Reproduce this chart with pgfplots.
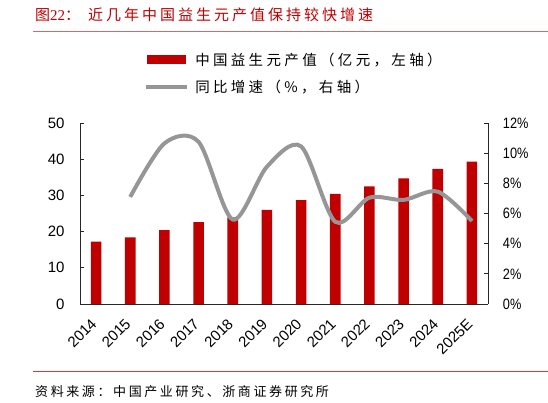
\documentclass[border=0pt]{standalone}
\usepackage{fontspec}
\setmainfont{Liberation Sans}
\newfontfamily\cjkT[LetterSpace=20]{Noto Sans CJK SC}
\newfontfamily\cjkL[LetterSpace=23]{Noto Sans CJK SC}
\newfontfamily\serifL{Liberation Serif}
\usepackage{pgfplots}
\usepackage{pgfplotstable}
\pgfplotsset{compat=1.18}
\definecolor{barred}{HTML}{C00000}
\definecolor{linegray}{HTML}{969696}
\definecolor{titlered}{HTML}{C00000}
\definecolor{ruleA}{HTML}{D46A6A}
\definecolor{ruleB}{HTML}{D83A3A}

\pgfplotstableread{
x val
0 17.2
1 18.4
2 20.4
3 22.6
4 23.9
5 26.0
6 28.7
7 30.4
8 32.5
9 34.7
10 37.3
11 39.3
}\bars
\pgfplotstableread{
x g
1 7.1
2 10.65
3 10.75
4 5.6
5 9.1
6 10.45
7 5.45
8 7.05
9 6.9
10 7.45
11 5.5
}\growth

\begin{document}
\begin{tikzpicture}
\path[use as bounding box] (0bp,0bp) rectangle (548bp,403bp);
% title and rules
\node[anchor=west, inner sep=0pt, text=titlered] at (35bp,388bp)
  {\fontsize{15bp}{18bp}\selectfont{\cjkT 图}{\serifL 22}{\cjkT ：\hspace{8bp}近几年中国益生元产值保持较快增速}};
\draw[ruleA, line width=1bp] (33bp,371bp) -- (548bp,371bp);
\draw[ruleB, line width=1bp] (33bp,31bp) -- (548bp,31bp);
\node[anchor=west, inner sep=0pt] at (35bp,11bp)
  {\fontsize{13bp}{16bp}\selectfont\cjkT 资料来源：中国产业研究、浙商证券研究所};

\begin{axis}[
  at={(80bp,99bp)}, anchor=south west,
  scale only axis, width=408bp, height=181bp,
  xmin=-0.47, xmax=11.47, ymin=0, ymax=50,
  ytick={0,10,...,50},
  ybar, bar width=10.6bp,
  axis x line*=bottom, axis y line*=left,
  axis line style={draw=black!85, line width=0.8bp},
  tick style={draw=black!85, line width=0.8bp},
  tick align=inside, major tick length=4bp,
  xtick={0,...,11},
  xticklabels={2014,2015,2016,2017,2018,2019,2020,2021,2022,2023,2024,2025E},
  x tick label style={xshift=-6bp, yshift=-12bp, rotate=45, anchor=north east, inner sep=1bp},
  y tick label style={anchor=east, xshift=-12bp},
  tick label style={font=\fontsize{15bp}{18bp}\selectfont},
  /pgf/number format/assume math mode=true,
]
\addplot[fill=barred, draw=none] table[x=x,y=val]{\bars};
\end{axis}

\begin{axis}[
  at={(80bp,99bp)}, anchor=south west,
  scale only axis, width=408bp, height=181bp,
  xmin=-0.47, xmax=11.47, ymin=0, ymax=12,
  ytick={0,2,...,12},
  axis y line*=right, axis x line=none,
  axis line style={draw=black!85, line width=0.8bp},
  tick style={draw=black!85, line width=0.8bp},
  tick align=inside, major tick length=4bp,
  yticklabel={\pgfmathprintnumber{\tick}\%},
  y tick label style={anchor=west, xshift=12bp, xscale=0.85},
  tick label style={font=\fontsize{15bp}{18bp}\selectfont},
  /pgf/number format/assume math mode=true,
  legend style={at={(0.157,1.39)}, anchor=north west, draw=none, fill=none,
    inner sep=0pt, row sep=14bp,
    nodes={inner sep=0pt, font=\fontsize{14.5bp}{16bp}\selectfont\cjkL}},
  legend cell align=left,
]
\addlegendimage{legend image code/.code={\fill[barred] (0bp,-4bp) rectangle (38bp,4bp);}}
\addlegendentry{\hspace{6bp}中国益生元产值（亿元，左轴）}
\addplot[linegray, line width=4bp, smooth,
  legend image code/.code={\draw[linegray, line width=4bp] (-1bp,0bp) -- (40bp,0bp);}]
  table[x=x,y=g]{\growth};
\addlegendentry{\hspace{6bp}同比增速（\%，右轴）}
\end{axis}
\end{tikzpicture}
\end{document}
